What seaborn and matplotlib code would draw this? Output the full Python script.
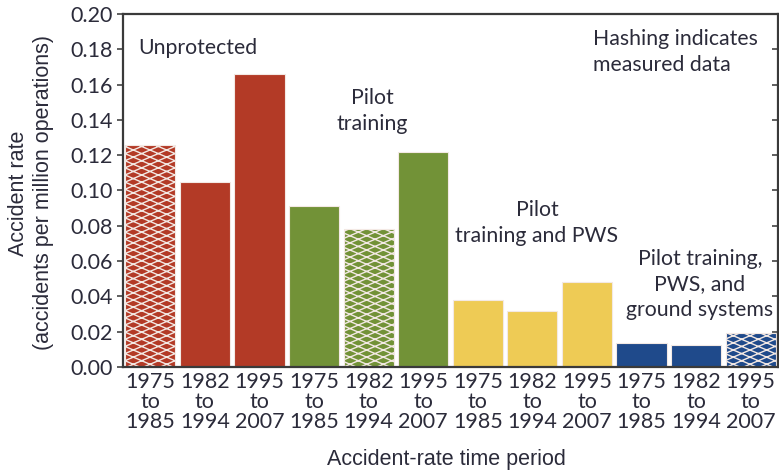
import matplotlib
matplotlib.use("Agg")
import matplotlib.pyplot as plt
import matplotlib.hatch as mhatch
from matplotlib.path import Path
from matplotlib.lines import TICKLEFT
import seaborn as sns
import pandas as pd

# Data
groups = ["Unprotected"] * 3 + ["Pilot training"] * 3 + ["Pilot training and PWS"] * 3 + ["Pilot training, PWS, and ground systems"] * 3
periods = ["1975\nto\n1985", "1982\nto\n1994", "1995\nto\n2007"] * 4
rates = [0.126, 0.105, 0.166, 0.091, 0.078, 0.122, 0.038, 0.032, 0.048, 0.0135, 0.0123, 0.0194]
measured = [True, False, False, False, True, False, False, False, False, False, False, True]
group_colors = ["#B33A26", "#729237", "#EECB55", "#1F4A8B"]


class FlatDiamondHatch(mhatch.HatchPatternBase):
    """Cross-hatch of shallow diagonals forming wide, flat diamonds."""
    rows = 14
    rise = 6

    def __init__(self, hatch, density):
        self.active = "x" in hatch
        self.k_up = list(range(-self.rise, self.rows + 1))
        self.k_down = list(range(0, self.rows + self.rise + 1))
        n_lines = len(self.k_up) + len(self.k_down) if self.active else 0
        self.num_vertices = 2 * n_lines

    def set_vertices_and_codes(self, vertices, codes):
        d = 1.0 / self.rows
        s = self.rise * d
        pts = []
        for k in self.k_up:
            pts += [(0.0, k * d), (1.0, k * d + s)]
        for k in self.k_down:
            pts += [(0.0, k * d), (1.0, k * d - s)]
        vertices[:] = pts
        codes[0::2] = Path.MOVETO
        codes[1::2] = Path.LINETO


mhatch._hatch_types[:] = [FlatDiamondHatch]

sns.set_theme(style="white")
plt.rcParams["font.family"] = ["Lato", "DejaVu Sans"]
plt.rcParams["hatch.linewidth"] = 1.0

df = pd.DataFrame({
    "slot": [f"{i}" for i in range(len(rates))],
    "group": groups,
    "rate": rates,
})

fig = plt.figure(figsize=(7.79, 4.70), dpi=100)
ax = fig.add_axes([123 / 779, 1 - 367 / 470, (778 - 123) / 779, (367 - 14) / 470])

sns.barplot(data=df, x="slot", y="rate", hue="group", palette=group_colors,
            dodge=False, width=0.92, legend=False, ax=ax, saturation=1)

bars = sorted(ax.patches, key=lambda p: p.get_x())
for bar, is_measured in zip(bars, measured):
    bar.set_edgecolor("#F3E9E4")
    bar.set_linewidth(0.8)
    if is_measured:
        bar.set_hatch("x")

text_color = "#2B2B3A"
ax.set_xlim(-0.5, len(rates) - 0.5)
ax.set_ylim(0, 0.20)
yt = [0.00, 0.02, 0.04, 0.06, 0.08, 0.10, 0.12, 0.14, 0.16, 0.18, 0.20]
ax.set_yticks(yt)
ax.set_yticklabels([f"{v:.2f}" for v in yt], fontsize=15.5, color=text_color)
ax.set_xticks(range(len(rates)))
ax.set_xticklabels(periods, fontsize=15.5, color=text_color, linespacing=1.0)
ax.tick_params(axis="x", length=0, pad=3.6)
ax.tick_params(axis="y", which="both", left=True, right=True, length=4.3, width=1.2,
               direction="out", color="#444444", pad=2.9)
for t in ax.yaxis.get_ticklines()[1::2]:
    t.set_marker(TICKLEFT)

for side in ["left", "bottom", "top", "right"]:
    ax.spines[side].set_visible(True)
    ax.spines[side].set_color("#3A3A3A")
    ax.spines[side].set_linewidth(1.6)

label_font = ["Liberation Sans", "DejaVu Sans"]
ax.set_xlabel("Accident-rate time period", fontsize=15.5, color=text_color,
              family=label_font)
ax.xaxis.label.set_va("baseline")
ax.xaxis.set_label_coords(0.4931, -0.2776)
ax.set_ylabel("Accident rate\n(accidents per million operations)", fontsize=15.5,
              color=text_color, family=label_font, linespacing=1.28)
ax.yaxis.label.set_va("center")
ax.yaxis.set_label_coords(-0.1405, 0.493)

txt = dict(fontsize=15.3, color=text_color, linespacing=1.35, va="top")
ax.text(-0.225, 0.1864, "Unprotected", ha="left", **txt)
ax.text(4.06, 0.1581, "Pilot\ntraining", ha="center", **txt)
ax.text(8.11, 0.1915, "Hashing indicates\nmeasured data", ha="left", **txt)
ax.text(7.085, 0.0946, "Pilot\ntraining and PWS", ha="center", **txt)
ax.text(10.07, 0.0669, "Pilot training,\nPWS, and\nground systems", ha="center", **txt)

fig.savefig("out.png", dpi=100)
